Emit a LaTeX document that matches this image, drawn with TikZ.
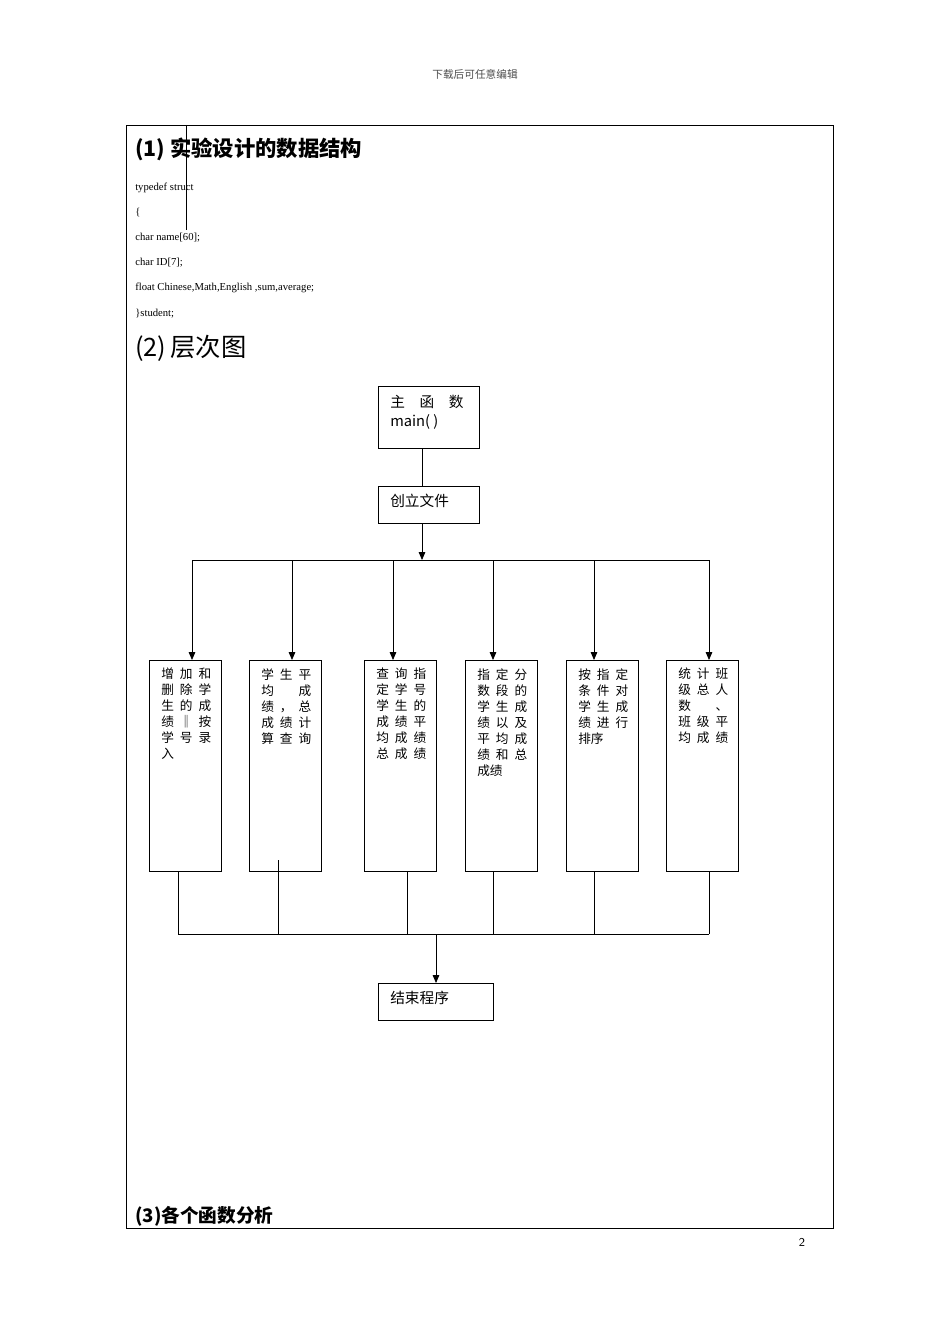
\documentclass[tikz,border=0pt]{standalone}
\usepackage{fontspec}
\setmainfont{Liberation Serif}
\newfontfamily\cjk{Noto Sans CJK SC}
\usetikzlibrary{arrows.meta}
\newcommand{\bl}[3]{\makebox[37.5pt][s]{#1\hfill#2\hfill#3}}
\begin{document}
\begin{tikzpicture}[x=0.75pt,y=-0.75pt,
  bx/.style={draw,line width=0.6pt},
  ln/.style={line width=0.6pt},
  ar/.style={ln,-{Triangle[length=6pt,width=5pt]}},
  bt/.style={anchor=north west,inner sep=0pt,align=left,font=\cjk\fontsize{9.5pt}{12pt}\selectfont},
  code/.style={anchor=base west,inner sep=0pt,font=\fontsize{8pt}{9pt}\selectfont}]
\useasboundingbox (0,0) rectangle (950,1344);
\node[font=\cjk\fontsize{8pt}{9pt}\selectfont,text=black!70] (hd) at (475,74) {下载后可任意编辑};
\draw[ln] (126,125) rectangle (833,1228);
\draw[ln] (186,125) -- (186,230);
\node[anchor=base west,inner sep=0pt,font=\cjk\bfseries\fontsize{16pt}{18pt}\selectfont] (t1) at (135,157) {(1) 实验设计的数据结构};
\node[code] (c1) at (135,191) {typedef struct};
\node[code] (c2) at (135,216) {\{};
\node[code] (c3) at (135,241) {char name[60];};
\node[code] (c4) at (135,266) {char ID[7];};
\node[code] (c5) at (135,291) {float Chinese,Math,English ,sum,average;};
\node[code] (c6) at (135,316) {\}student;};
\node[anchor=base west,inner sep=0pt,font=\cjk\fontsize{19pt}{21pt}\selectfont] (t2) at (135,356) {(2)\,层次图};
\draw[bx] (378,386) rectangle (479,448);
\node[bt,font=\cjk\fontsize{11pt}{14pt}\selectfont] (m) at (390,395) {\makebox[55pt][s]{主\hfill 函\hfill 数}\\main( )};
\coordinate (mb) at (422,448);
\draw[bx] (378,486) rectangle (479,523);
\node[bt,font=\cjk\fontsize{11pt}{14pt}\selectfont] (cf) at (390,494) {创立文件};
\draw[ln] (mb) -- (422,486);
\draw[ar] (422,523) -- (422,560);
\draw[ln] (192,560) -- (709,560);
\foreach \x in {192,292,393,493,594,709}{\draw[ar] (\x,560) -- (\x,660);}
\foreach \a in {149,249,364,465,566,666}{\draw[bx] (\a,660) rectangle ++(72,211);}
\node[bt] (b1) at (161,668) {\bl{增}{加}{和}\\\bl{删}{除}{学}\\\bl{生}{的}{成}\\\bl{绩}{‖}{按}\\\bl{学}{号}{录}\\入};
\node[bt] (b2) at (261,668) {\bl{学}{生}{平}\\\bl{均}{}{成}\\\bl{绩}{，}{总}\\\bl{成}{绩}{计}\\\bl{算}{查}{询}};
\node[bt] (b3) at (376,668) {\bl{查}{询}{指}\\\bl{定}{学}{号}\\\bl{学}{生}{的}\\\bl{成}{绩}{平}\\\bl{均}{成}{绩}\\\bl{总}{成}{绩}};
\node[bt] (b4) at (477,668) {\bl{指}{定}{分}\\\bl{数}{段}{的}\\\bl{学}{生}{成}\\\bl{绩}{以}{及}\\\bl{平}{均}{成}\\\bl{绩}{和}{总}\\成绩};
\node[bt] (b5) at (578,668) {\bl{按}{指}{定}\\\bl{条}{件}{对}\\\bl{学}{生}{成}\\\bl{绩}{进}{行}\\排序};
\node[bt] (b6) at (678,668) {\bl{统}{计}{班}\\\bl{级}{总}{人}\\\bl{数}{}{、}\\\bl{班}{级}{平}\\\bl{均}{成}{绩}};
\draw[ln] (178,871) -- (178,934);
\draw[ln] (278,860) -- (278,934);
\foreach \x in {407,493,594,709}{\draw[ln] (\x,871) -- (\x,934);}
\draw[ln] (178,934) -- (709,934);
\draw[ar] (436,934) -- (436,983);
\draw[bx] (378,983) rectangle (493,1020);
\node[bt,font=\cjk\fontsize{11pt}{14pt}\selectfont] (end) at (390,991) {结束程序};
\node[anchor=base west,inner sep=0pt,font=\cjk\bfseries\fontsize{14pt}{16pt}\selectfont] (t3) at (135,1222) {(3)各个函数分析};
\node[font=\fontsize{9pt}{10pt}\selectfont\sffamily] (pg) at (802,1242) {2};
\end{tikzpicture}
\end{document}
